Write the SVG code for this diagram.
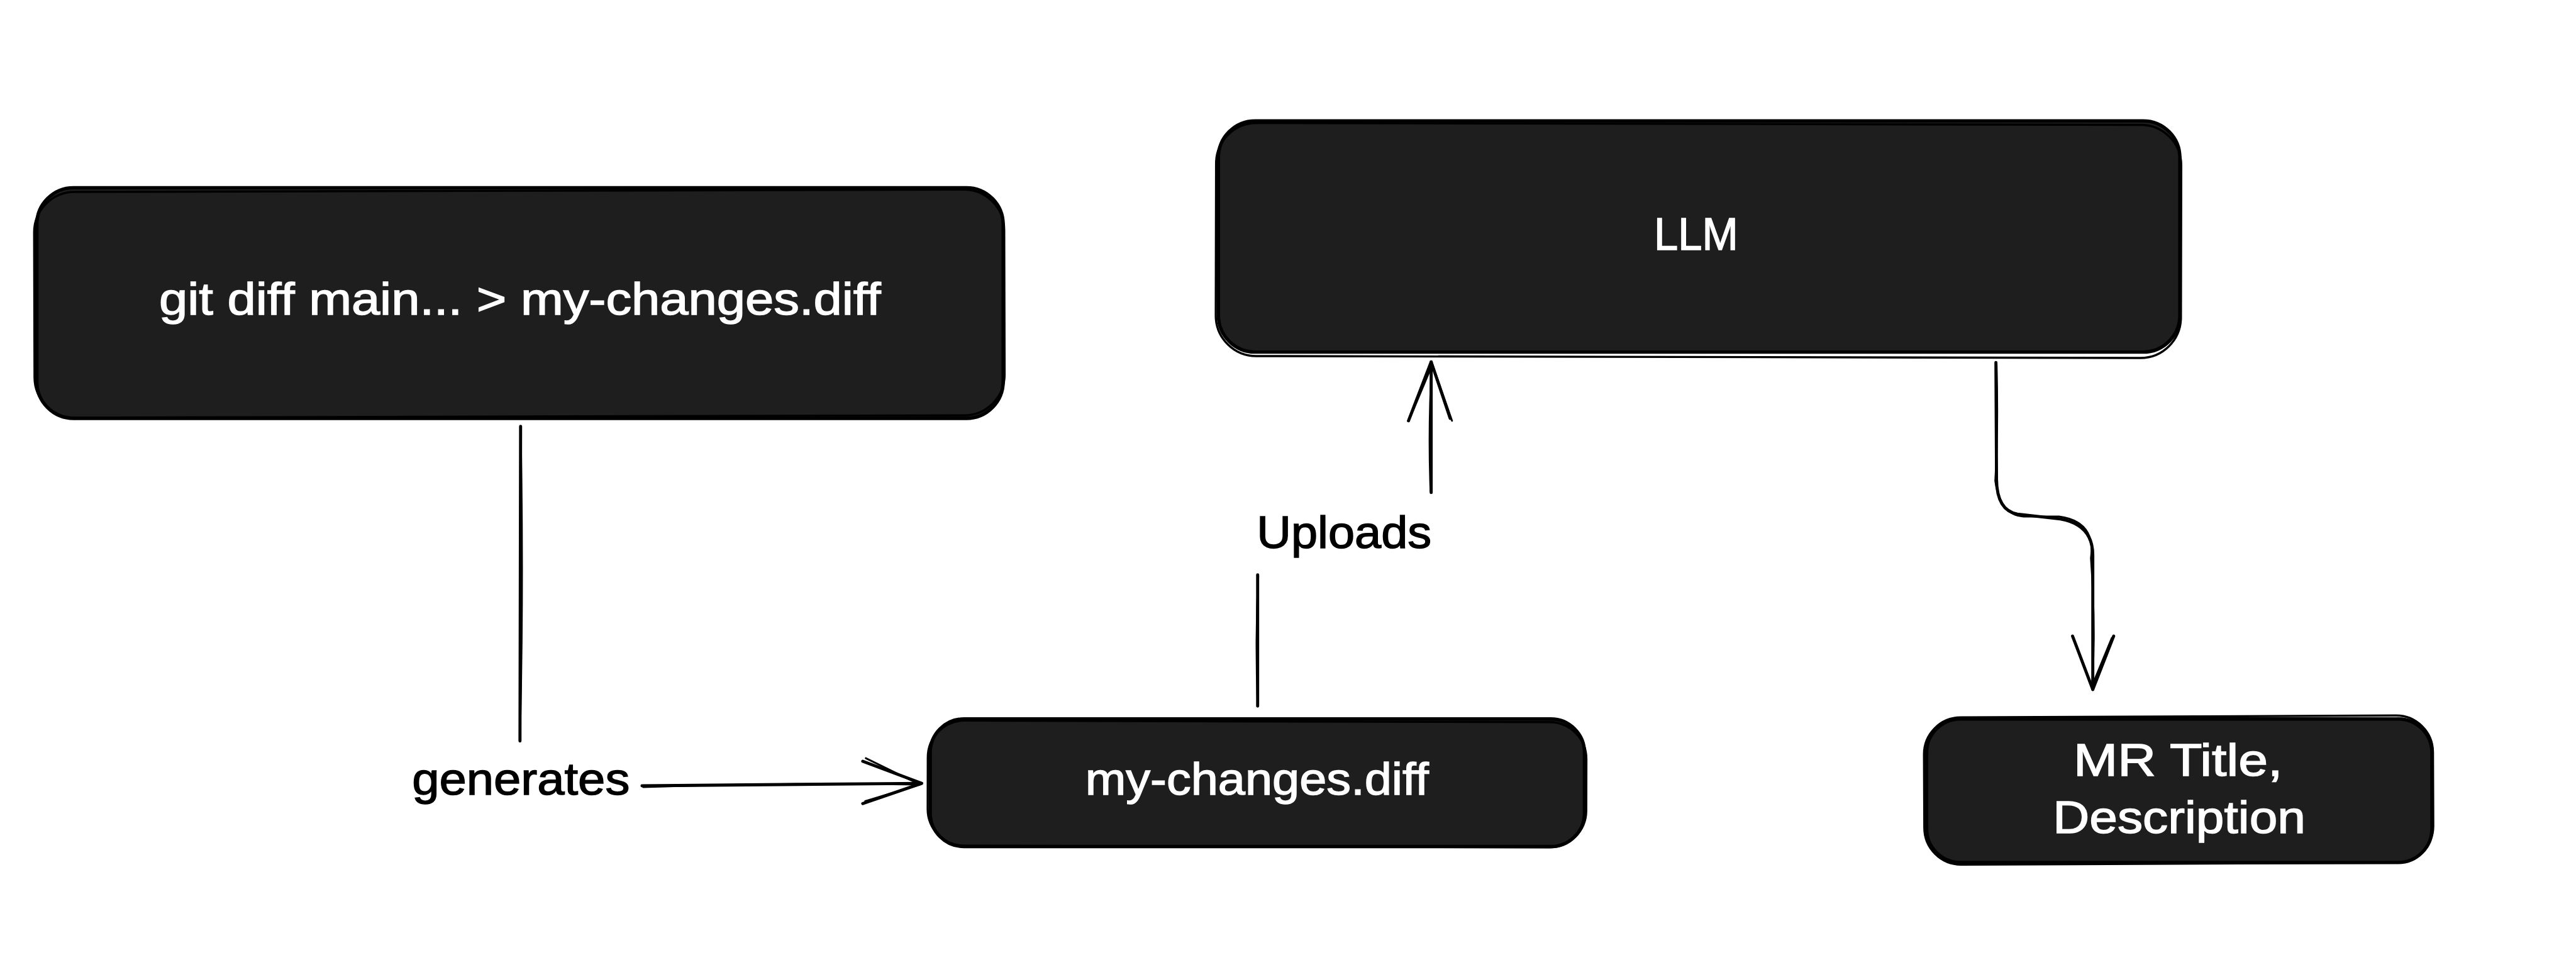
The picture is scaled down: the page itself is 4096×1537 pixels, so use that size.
<svg xmlns="http://www.w3.org/2000/svg" width="4096" height="1537" viewBox="0 0 4096 1537">
  <style>
    .box { fill: #1e1e1e; stroke: #000000; stroke-width: 5.5; }
    .sk { fill: none; stroke: #000000; stroke-width: 3.5; }
    .nt { fill: #ffffff; stroke: #ffffff; stroke-width: 1.5; font-family: "Liberation Sans", Arial, sans-serif; font-size: 74px; text-anchor: middle; }
    .lt { fill: #000000; stroke: #000000; stroke-width: 1.5; font-family: "Liberation Sans", Arial, sans-serif; font-size: 74px; text-anchor: middle; }
    .cn { fill: none; stroke: #000000; stroke-width: 5; stroke-linecap: round; stroke-linejoin: round; }
    .cn2 { fill: none; stroke: #000000; stroke-width: 3; stroke-linecap: round; stroke-linejoin: round; }
  </style>
  <rect x="0" y="0" width="4096" height="1537" fill="#ffffff"/>
  <g transform="scale(0.975)">
    <g id="connectors">
      <g id="edge-generates">
        <path class="cn" d="M 849 695 L 848 1208"/>
        <path class="cn2" d="M 849 697 Q 854 950 848 1206"/>
        <path class="cn" d="M 1047 1281 L 1503 1277"/>
        <path class="cn2" d="M 1049 1283 Q 1280 1276 1500 1279"/>
        <path class="cn" d="M 1407 1241 L 1503 1277 L 1407 1310"/>
        <path class="cn2" d="M 1412 1236 L 1500 1279 L 1411 1306"/>
        <text class="lt" x="849.5" y="1295" textLength="355" lengthAdjust="spacingAndGlyphs">generates</text>
      </g>
      <g id="edge-uploads">
        <path class="cn" d="M 2051 1151 L 2051 937"/>
        <path class="cn2" d="M 2051 1149 Q 2047 1040 2052 939"/>
        <path class="cn" d="M 2334 803 L 2334 590"/>
        <path class="cn2" d="M 2333 801 Q 2329 700 2335 593"/>
        <path class="cn" d="M 2297 686 L 2334 590 L 2365 682"/>
        <path class="cn2" d="M 2300 680 L 2336 594 L 2368 686"/>
        <text class="lt" x="2192" y="893" textLength="285" lengthAdjust="spacingAndGlyphs">Uploads</text>
      </g>
      <g id="edge-llm-mr">
        <path class="cn" d="M 3255 591 L 3256 780 Q 3256 832 3290 838 L 3360 846 Q 3413 855 3413 905 L 3413 1124"/>
        <path class="cn2" d="M 3256 594 Q 3259 700 3254 784 Q 3262 840 3300 842 L 3358 842 Q 3418 850 3410 910 Q 3418 1020 3412 1120"/>
        <path class="cn" d="M 3380 1037 L 3413 1124 L 3447 1037"/>
        <path class="cn2" d="M 3382 1042 L 3411 1120 L 3444 1040"/>
      </g>
    </g>
    <g id="node-git-diff">
      <rect class="box" x="60" y="306" width="1576" height="376" rx="60"/>
      <rect class="sk" x="56" y="311" width="1582" height="368" rx="66" transform="rotate(-0.15 848 494)"/>
      <text class="nt" x="848" y="513" textLength="1177" lengthAdjust="spacingAndGlyphs">git diff main... &gt; my-changes.diff</text>
    </g>
    <g id="node-llm">
      <rect class="box" x="1987" y="197" width="1568" height="377" rx="60"/>
      <rect class="sk" x="1983" y="202" width="1574" height="380" rx="66" transform="rotate(0.12 2771 385)"/>
      <text class="nt" x="2766" y="407" textLength="137" lengthAdjust="spacingAndGlyphs">LLM</text>
    </g>
    <g id="node-my-changes">
      <rect class="box" x="1517" y="1172" width="1067" height="208" rx="55"/>
      <rect class="sk" x="1513" y="1176" width="1074" height="204" rx="60" transform="rotate(0.15 2050 1276)"/>
      <text class="nt" x="2050" y="1295" textLength="560" lengthAdjust="spacingAndGlyphs">my-changes.diff</text>
    </g>
    <g id="node-mr">
      <rect class="box" x="3142" y="1172" width="824" height="234" rx="55"/>
      <rect class="sk" x="3138" y="1168" width="830" height="240" rx="60" transform="rotate(-0.25 3554 1289)"/>
      <text class="nt" x="3552" y="1265" textLength="341" lengthAdjust="spacingAndGlyphs">MR Title,</text>
      <text class="nt" x="3554" y="1358" textLength="412" lengthAdjust="spacingAndGlyphs">Description</text>
    </g>
  </g>
</svg>
